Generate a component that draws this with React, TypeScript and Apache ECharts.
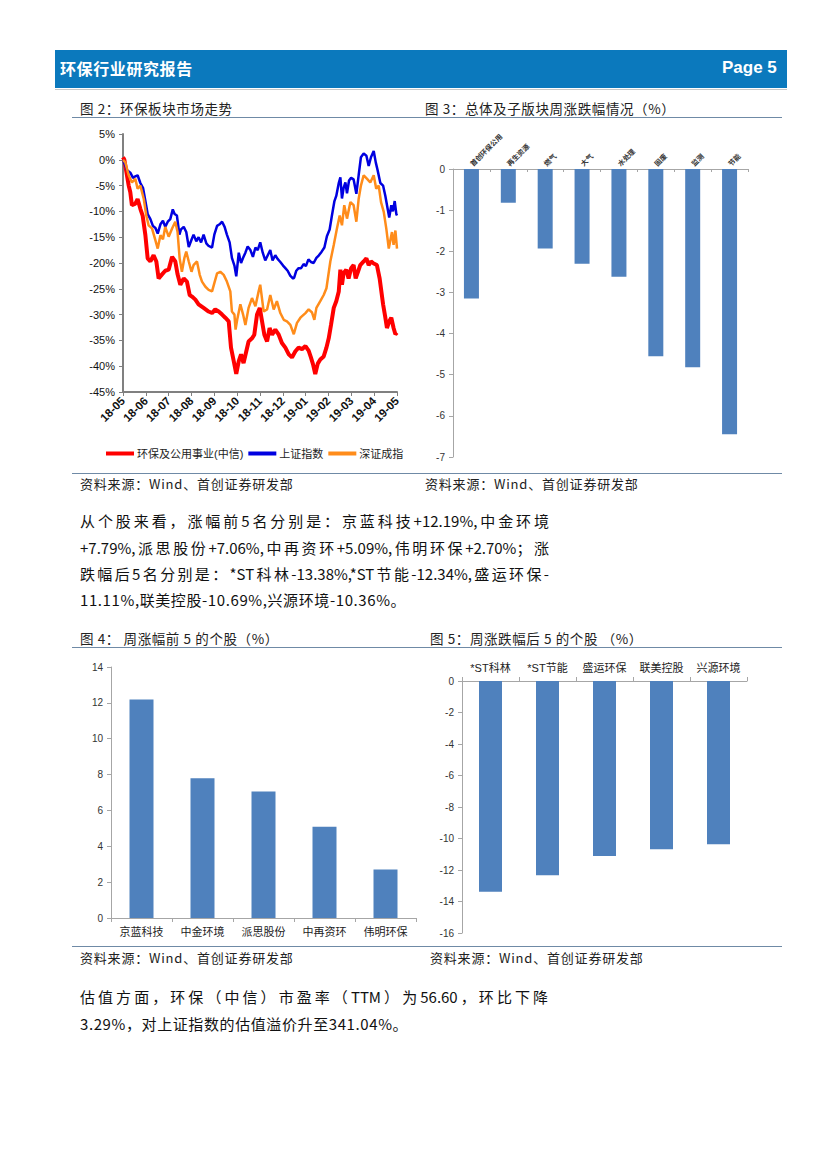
import React, { useEffect, useRef } from "react";
import * as echarts from "echarts";

// ---------- data ----------
const monthLabels = ["18-05", "18-06", "18-07", "18-08", "18-09", "18-10", "18-11", "18-12", "19-01", "19-02", "19-03", "19-04", "19-05"];
const lineNames = ["环保及公用事业(中信)", "上证指数", "深证成指"];

// [month offset from 2018-05, cumulative change %]
const hbValues: [number, number][] = [[0,0.5],[0.06,0],[0.15,-2.4],[0.25,-5.0],[0.32,-6.3],[0.39,-8.8],[0.54,-8.5],[0.64,-7.6],[0.76,-9.5],[0.86,-10.8],[0.98,-14.6],[1.08,-19.1],[1.2,-19.7],[1.34,-18.5],[1.46,-19.7],[1.56,-23.0],[1.71,-22.2],[1.85,-21.5],[2.0,-21.3],[2.15,-18.8],[2.29,-19.7],[2.39,-22.2],[2.51,-24.2],[2.66,-23.0],[2.8,-23.6],[2.92,-26.2],[3.02,-26.5],[3.17,-27.1],[3.31,-28.0],[3.53,-28.7],[3.75,-29.4],[3.9,-29.7],[4.04,-29.0],[4.19,-29.4],[4.34,-30.0],[4.48,-30.6],[4.63,-31.3],[4.73,-36.4],[4.85,-39.0],[4.96,-41.5],[5.07,-39.0],[5.17,-37.7],[5.28,-39.4],[5.4,-37.1],[5.5,-35.2],[5.65,-34.6],[5.75,-33.9],[5.87,-30.0],[5.99,-28.7],[6.09,-31.3],[6.19,-33.9],[6.31,-35.2],[6.42,-32.6],[6.53,-33.9],[6.67,-32.9],[6.82,-33.9],[6.96,-35.5],[7.11,-36.4],[7.26,-37.7],[7.4,-38.3],[7.55,-37.1],[7.69,-36.4],[7.84,-36.7],[7.99,-36.1],[8.13,-37.0],[8.23,-38.3],[8.32,-39.6],[8.42,-41.5],[8.53,-39.5],[8.64,-38.7],[8.79,-38.1],[8.91,-36.4],[9.01,-34.6],[9.11,-32.0],[9.23,-28.7],[9.34,-27.4],[9.45,-25.5],[9.52,-21.3],[9.59,-24.2],[9.66,-22.0],[9.78,-21.3],[9.88,-23.0],[9.99,-21.0],[10.1,-20.4],[10.19,-23.0],[10.29,-21.7],[10.39,-20.4],[10.54,-19.7],[10.66,-19.1],[10.76,-20.4],[10.86,-19.7],[10.98,-20.1],[11.12,-20.4],[11.24,-23.0],[11.39,-28.0],[11.49,-30.6],[11.56,-32.6],[11.66,-31.3],[11.75,-30.6],[11.85,-32.6],[11.93,-33.8],[12.0,-33.5]];

const shValues: [number, number][] = [[0,0],[0.18,-2.0],[0.32,-2.5],[0.44,-3.5],[0.54,-3.2],[0.64,-3.0],[0.76,-4.5],[0.88,-5.5],[0.98,-8.0],[1.08,-10.5],[1.2,-11.5],[1.31,-12.8],[1.42,-13.2],[1.52,-14.3],[1.64,-12.5],[1.75,-11.8],[1.85,-13.0],[1.96,-12.0],[2.07,-11.5],[2.18,-9.6],[2.26,-10.5],[2.36,-10.8],[2.47,-14.5],[2.54,-13.5],[2.66,-13.0],[2.77,-14.0],[2.88,-16.9],[3.0,-15.5],[3.09,-14.5],[3.21,-15.8],[3.31,-15.0],[3.42,-16.0],[3.53,-14.5],[3.65,-16.2],[3.75,-16.7],[3.9,-17.0],[4.0,-14.5],[4.12,-12.8],[4.23,-12.5],[4.34,-12.0],[4.45,-13.0],[4.55,-14.5],[4.67,-16.0],[4.77,-19.0],[4.88,-20.5],[4.96,-22.6],[5.07,-18.0],[5.17,-20.0],[5.26,-19.0],[5.36,-18.0],[5.46,-16.8],[5.58,-17.5],[5.69,-18.8],[5.8,-17.0],[5.9,-17.5],[6.01,-16.0],[6.12,-18.0],[6.23,-19.5],[6.34,-18.5],[6.45,-17.5],[6.55,-19.5],[6.67,-18.5],[6.77,-19.2],[6.89,-19.8],[7.01,-20.5],[7.11,-21.0],[7.21,-21.5],[7.33,-22.5],[7.45,-23.0],[7.5,-22.8],[7.59,-21.5],[7.69,-21.0],[7.8,-21.0],[7.91,-20.2],[8.01,-20.6],[8.12,-19.3],[8.23,-19.8],[8.35,-20.0],[8.47,-19.0],[8.58,-18.5],[8.7,-17.8],[8.82,-17.0],[8.93,-14.8],[9.05,-13.5],[9.15,-10.8],[9.26,-8.0],[9.34,-7.0],[9.45,-4.5],[9.52,-3.4],[9.59,-7.5],[9.66,-5.5],[9.74,-4.4],[9.81,-6.5],[9.9,-4.0],[9.99,-3.5],[10.1,-3.8],[10.22,-6.6],[10.32,-3.0],[10.42,0.5],[10.54,1.2],[10.66,0.8],[10.76,-1.2],[10.86,0.5],[10.98,1.7],[11.07,-0.5],[11.15,-2.0],[11.27,-4.5],[11.39,-5.0],[11.49,-7.0],[11.59,-9.5],[11.66,-11.2],[11.75,-8.8],[11.82,-10.0],[11.9,-8.0],[11.97,-10.5],[12.0,-10.8]];

const szValues: [number, number][] = [[0,0],[0.1,-0.5],[0.25,-3.0],[0.39,-4.4],[0.54,-3.7],[0.64,-5.6],[0.76,-5.0],[0.91,-7.6],[1.02,-10.8],[1.12,-12.7],[1.27,-13.3],[1.42,-15.6],[1.52,-17.2],[1.64,-14.6],[1.75,-15.4],[1.85,-13.0],[2.0,-14.9],[2.15,-13.3],[2.29,-12.0],[2.39,-14.0],[2.48,-19.1],[2.58,-21.7],[2.69,-19.0],[2.77,-17.8],[2.88,-19.7],[3.0,-21.7],[3.09,-20.4],[3.24,-19.7],[3.36,-22.3],[3.46,-23.6],[3.61,-24.6],[3.75,-25.2],[3.9,-25.5],[4.0,-23.9],[4.12,-22.0],[4.26,-21.7],[4.41,-22.3],[4.55,-23.6],[4.7,-25.5],[4.77,-29.4],[4.88,-30.0],[4.93,-32.9],[5.0,-31.0],[5.14,-28.0],[5.26,-30.0],[5.36,-32.0],[5.5,-28.7],[5.65,-26.8],[5.8,-28.4],[5.94,-25.5],[6.01,-24.2],[6.16,-29.4],[6.31,-29.0],[6.45,-26.2],[6.6,-29.0],[6.74,-27.4],[6.89,-29.7],[7.04,-31.0],[7.18,-31.3],[7.33,-32.0],[7.48,-33.8],[7.62,-31.6],[7.77,-30.6],[7.99,-29.7],[8.13,-29.0],[8.28,-29.6],[8.38,-31.0],[8.47,-28.7],[8.64,-27.4],[8.79,-26.2],[8.91,-24.9],[9.08,-19.7],[9.23,-16.5],[9.37,-13.3],[9.49,-10.8],[9.59,-12.7],[9.69,-8.8],[9.81,-11.4],[9.96,-8.2],[10.1,-8.8],[10.22,-12.0],[10.32,-7.6],[10.42,-5.0],[10.54,-3.0],[10.69,-3.7],[10.83,-4.4],[10.98,-3.0],[11.09,-5.6],[11.2,-5.0],[11.3,-8.2],[11.42,-10.1],[11.53,-13.3],[11.64,-17.2],[11.71,-15.6],[11.78,-14.0],[11.85,-16.5],[11.93,-13.7],[12.0,-17.2]];

const sectorCats = ["首创环保公用", "再生资源", "燃气", "大气", "水处理", "固废", "监测", "节能"];
const sectorValues = [-3.15, -0.82, -1.93, -2.3, -2.62, -4.55, -4.82, -6.45];

const topCats = ["京蓝科技", "中金环境", "派思股份", "中再资环", "伟明环保"];
const topValues = [12.19, 7.79, 7.06, 5.09, 2.7];

const bottomCats = ["*ST科林", "*ST节能", "盛运环保", "联美控股", "兴源环境"];
const bottomValues = [-13.38, -12.34, -11.11, -10.69, -10.36];

// ---------- styles ----------
const BAR = "#4f81bd";
const AXIS_GRAY = "#a6a6a6";
const NUM_FONT = "Liberation Sans, Arial, sans-serif";
const CJK_FONT = "Liberation Sans, 'Noto Sans CJK SC', sans-serif";
const TEXT_FONT = "'Noto Sans CJK SC', sans-serif";

const abs = (l: number, t: number, extra: React.CSSProperties = {}): React.CSSProperties => ({
  position: "absolute",
  left: l,
  top: t,
  whiteSpace: "nowrap",
  ...extra,
});

export default function App() {
  const ref = useRef<HTMLDivElement>(null);

  useEffect(() => {
    if (!ref.current) return;
    const chart = echarts.init(ref.current, undefined, { renderer: "svg" });
    const barYAxisBase = {
      axisLine: { show: true, lineStyle: { color: AXIS_GRAY, width: 1 } },
      axisTick: { show: true, length: 4, lineStyle: { color: AXIS_GRAY } },
      splitLine: { show: false },
      axisLabel: { fontSize: 10, color: "#333", fontFamily: NUM_FONT, margin: 8 },
    };
    chart.setOption({
      animation: false,
      grid: [
        { left: 123, top: 134, width: 274, height: 258 },
        { left: 453, top: 169, width: 295, height: 288 },
        { left: 111, top: 667, width: 305, height: 251 },
        { left: 462, top: 681, width: 285, height: 252 },
      ],
      legend: {
        left: 101,
        top: 443,
        itemWidth: 28,
        itemHeight: 4,
        itemGap: 5,
        icon: "rect",
        data: lineNames,
        textStyle: { fontSize: 11, color: "#222", fontFamily: CJK_FONT, padding: [0, 0, 0, -2] },
      },
      xAxis: [
        {
          gridIndex: 0,
          type: "value",
          min: 0,
          max: 12,
          interval: 1,
          axisLine: { show: true, onZero: false, lineStyle: { color: "#808080", width: 2 } },
          axisTick: { show: true, length: 4, lineStyle: { color: "#808080", width: 1 } },
          splitLine: { show: false },
          axisLabel: {
            rotate: 45,
            fontSize: 11.5,
            fontWeight: "bold",
            color: "#111",
            fontFamily: NUM_FONT,
            margin: 7,
            formatter: (v: number) => monthLabels[Math.round(v)] ?? "",
          },
        },
        {
          gridIndex: 1,
          type: "category",
          data: sectorCats,
          position: "top",
          axisLine: { show: true, lineStyle: { color: AXIS_GRAY } },
          axisTick: { show: true, length: 3, inside: true, lineStyle: { color: AXIS_GRAY } },
          axisLabel: { rotate: 45, fontSize: 7, fontWeight: "bold", color: "#333", fontFamily: CJK_FONT, margin: 4, interval: 0 },
        },
        {
          gridIndex: 2,
          type: "category",
          data: topCats,
          axisLine: { show: true, lineStyle: { color: AXIS_GRAY } },
          axisTick: { show: true, length: 4, lineStyle: { color: AXIS_GRAY } },
          axisLabel: { fontSize: 11, color: "#222", fontFamily: CJK_FONT, margin: 8, interval: 0 },
        },
        {
          gridIndex: 3,
          type: "category",
          data: bottomCats,
          position: "top",
          axisLine: { show: true, lineStyle: { color: AXIS_GRAY } },
          axisTick: { show: true, length: 4, lineStyle: { color: AXIS_GRAY } },
          axisLabel: { fontSize: 11, color: "#222", fontFamily: CJK_FONT, margin: 8, interval: 0 },
        },
      ],
      yAxis: [
        {
          gridIndex: 0,
          type: "value",
          min: -45,
          max: 5,
          interval: 5,
          axisLine: { show: true, lineStyle: { color: "#808080", width: 2 } },
          axisTick: { show: true, length: 4, lineStyle: { color: "#808080" } },
          splitLine: { show: false },
          axisLabel: { fontSize: 11, color: "#111", fontFamily: NUM_FONT, margin: 8, formatter: "{value}%" },
        },
        { gridIndex: 1, type: "value", min: -7, max: 0, interval: 1, ...barYAxisBase },
        { gridIndex: 2, type: "value", min: 0, max: 14, interval: 2, ...barYAxisBase },
        { gridIndex: 3, type: "value", min: -16, max: 0, interval: 2, ...barYAxisBase },
      ],
      series: [
        {
          name: lineNames[0],
          type: "line",
          xAxisIndex: 0,
          yAxisIndex: 0,
          data: hbValues,
          showSymbol: false,
          color: "#ff0000",
          lineStyle: { width: 4, color: "#ff0000" },
          z: 3,
        },
        {
          name: lineNames[1],
          type: "line",
          xAxisIndex: 0,
          yAxisIndex: 0,
          data: shValues,
          showSymbol: false,
          color: "#0000e0",
          lineStyle: { width: 2.5, color: "#0000e0" },
        },
        {
          name: lineNames[2],
          type: "line",
          xAxisIndex: 0,
          yAxisIndex: 0,
          data: szValues,
          showSymbol: false,
          color: "#ff8c1a",
          lineStyle: { width: 2.5, color: "#ff8c1a" },
        },
        { type: "bar", xAxisIndex: 1, yAxisIndex: 1, data: sectorValues, barWidth: 15, itemStyle: { color: BAR } },
        { type: "bar", xAxisIndex: 2, yAxisIndex: 2, data: topValues, barWidth: 24, itemStyle: { color: BAR } },
        { type: "bar", xAxisIndex: 3, yAxisIndex: 3, data: bottomValues, barWidth: 23, itemStyle: { color: BAR } },
      ],
    });
    return () => chart.dispose();
  }, []);

  const caption: React.CSSProperties = { fontFamily: TEXT_FONT, fontSize: 13.5, color: "#222", letterSpacing: 0.6, lineHeight: "18px" };
  const source: React.CSSProperties = { fontFamily: TEXT_FONT, fontSize: 13, color: "#222", letterSpacing: 0.8, lineHeight: "18px" };
  const para: React.CSSProperties = { fontFamily: TEXT_FONT, fontSize: 15, color: "#111", lineHeight: "20px" };
  const just = (l: number, t: number, w: number): React.CSSProperties =>
    abs(l, t, { ...para, width: w, textAlign: "justify", textAlignLast: "justify" as any, whiteSpace: "normal" });
  const rule = (t: number): React.CSSProperties => abs(72, t, { width: 710, height: 0, borderTop: "1.5px solid #6f8aa6" });

  return (
    <div style={{ position: "absolute", left: 0, top: 0, width: 827, height: 1169, background: "#fff", overflow: "hidden" }}>
      <div ref={ref} style={{ position: "absolute", left: 0, top: 0, width: 827, height: 1169 }} />
      {/* header */}
      <div style={abs(55, 50, { width: 732, height: 38, background: "#0b79bd" })} />
      <div style={abs(55, 89, { width: 732, height: 0, borderTop: "1px solid #c8c8c8" })} />
      <div style={abs(60, 57, { fontFamily: TEXT_FONT, fontWeight: 700, fontSize: 16, color: "#fff", letterSpacing: 0.6, lineHeight: "22px" })}>环保行业研究报告</div>
      <div style={abs(722, 57, { fontFamily: NUM_FONT, fontWeight: 700, fontSize: 17, color: "#fff", lineHeight: "22px" })}>Page 5</div>

      {/* figure 2 / 3 captions */}
      <div style={abs(80, 99, caption)}>图 2：环保板块市场走势</div>
      <div style={abs(425, 99, caption)}>图 3：总体及子版块周涨跌幅情况（%）</div>
      <div style={rule(117)} />
      <div style={rule(473)} />
      <div style={abs(80, 475, source)}>资料来源：Wind、首创证券研发部</div>
      <div style={abs(425, 475, source)}>资料来源：Wind、首创证券研发部</div>

      {/* paragraph 1 */}
      <div style={just(80, 511, 469)}>从个股来看，涨幅前5名分别是：京蓝科技+12.19%,中金环境</div>
      <div style={just(80, 538, 469)}>+7.79%,派思股份+7.06%,中再资环+5.09%,伟明环保+2.70%；涨</div>
      <div style={just(80, 564, 469)}>跌幅后5名分别是：*ST科林-13.38%,*ST节能-12.34%,盛运环保-</div>
      <div style={abs(80, 590, { ...para, letterSpacing: 0.6 })}>11.11%,联美控股-10.69%,兴源环境-10.36%。</div>

      {/* figure 4 / 5 captions */}
      <div style={abs(80, 629, caption)}>图 4：  周涨幅前 5 的个股（%）</div>
      <div style={abs(430, 629, caption)}>图 5：周涨跌幅后 5 的个股  （%）</div>
      <div style={rule(647)} />
      <div style={rule(946)} />
      <div style={abs(80, 949, source)}>资料来源：Wind、首创证券研发部</div>
      <div style={abs(430, 949, source)}>资料来源：Wind、首创证券研发部</div>

      {/* paragraph 2 */}
      <div style={just(80, 987, 468)}>估值方面，环保（中信）市盈率（TTM）为56.60，环比下降</div>
      <div style={abs(80, 1014, { ...para, letterSpacing: 0.6 })}>3.29%，对上证指数的估值溢价升至341.04%。</div>
    </div>
  );
}
